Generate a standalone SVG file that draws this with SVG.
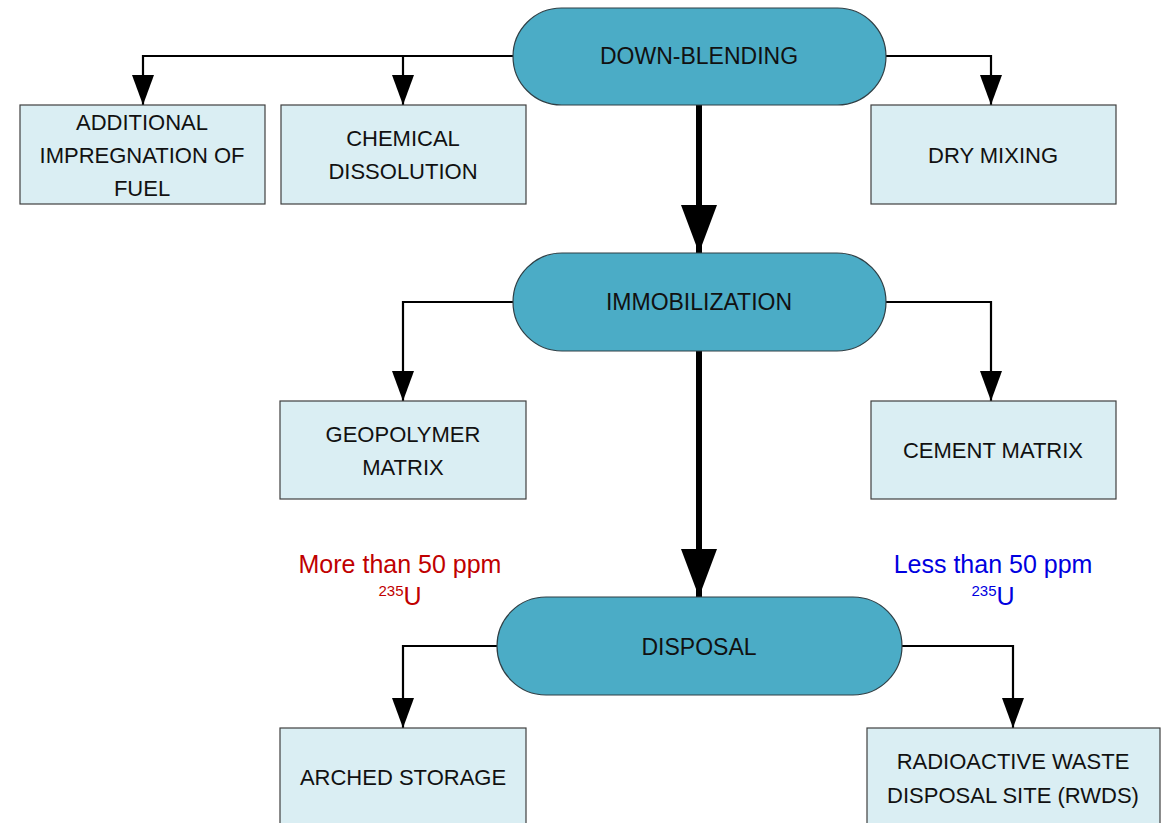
<svg xmlns="http://www.w3.org/2000/svg" width="1162" height="823" viewBox="0 0 1162 823">
<defs>
<style>
.box{fill:#DAEEF3;stroke:#404040;stroke-width:1.2}
.stad{fill:#4BACC6;stroke:#2F3F45;stroke-width:1.2}
.t{font-family:"Liberation Sans",Arial,sans-serif;font-size:22px;fill:#111;text-anchor:middle}
.s{font-size:23px}
.lbl{font-size:25px}
.thin{fill:none;stroke:#000;stroke-width:2.2}
.thick{fill:none;stroke:#000;stroke-width:6}
.red{fill:#C00000}
.blue{fill:#0000E0}
</style>
<marker id="ah" markerUnits="userSpaceOnUse" markerWidth="30" markerHeight="22" viewBox="0 0 30 22" refX="30" refY="11" orient="auto"><path d="M0,0 L30,11 L0,22 z" fill="#000"/></marker>
<marker id="ahb" markerUnits="userSpaceOnUse" markerWidth="48" markerHeight="36" viewBox="0 0 48 36" refX="48" refY="18" orient="auto"><path d="M0,0 L48,18 L0,36 z" fill="#000"/></marker>
</defs>
<rect width="1162" height="823" fill="#fff"/>
<g id="connectors">
<path class="thin" d="M513,56 H143 V105" marker-end="url(#ah)"/>
<path class="thin" d="M403,56 V105" marker-end="url(#ah)"/>
<path class="thin" d="M886,56 H991 V105" marker-end="url(#ah)"/>
<path class="thick" d="M699,105 V253" marker-end="url(#ahb)"/>
<path class="thin" d="M513,302 H403 V401" marker-end="url(#ah)"/>
<path class="thin" d="M886,302 H991 V401" marker-end="url(#ah)"/>
<path class="thick" d="M699,351 V597" marker-end="url(#ahb)"/>
<path class="thin" d="M497,646 H403 V728" marker-end="url(#ah)"/>
<path class="thin" d="M902,646 H1013 V728" marker-end="url(#ah)"/>
</g>
<g id="down-blending"><rect class="stad" x="513" y="8" width="373" height="97" rx="48.5"/><text class="t s" x="699" y="64">DOWN-BLENDING</text></g>
<g id="additional"><rect class="box" x="20" y="105" width="245" height="99"/><text class="t" x="142" y="130">ADDITIONAL</text><text class="t" x="142" y="163">IMPREGNATION OF</text><text class="t" x="142" y="196">FUEL</text></g>
<g id="chemical"><rect class="box" x="281" y="105" width="245" height="99"/><text class="t" x="403" y="146">CHEMICAL</text><text class="t" x="403" y="179">DISSOLUTION</text></g>
<g id="dry-mixing"><rect class="box" x="871" y="105" width="245" height="99"/><text class="t" x="993" y="163">DRY MIXING</text></g>
<g id="immobilization"><rect class="stad" x="513" y="253" width="373" height="98" rx="49"/><text class="t s" x="699" y="310">IMMOBILIZATION</text></g>
<g id="geopolymer"><rect class="box" x="280" y="401" width="246" height="98"/><text class="t" x="403" y="442">GEOPOLYMER</text><text class="t" x="403" y="475">MATRIX</text></g>
<g id="cement"><rect class="box" x="871" y="401" width="245" height="98"/><text class="t" x="993" y="458">CEMENT MATRIX</text></g>
<g id="more-than"><text class="t lbl red" x="400" y="573">More than 50 ppm</text><text class="t lbl red" x="400" y="605"><tspan font-size="15" dy="-9">235</tspan><tspan dy="9">U</tspan></text></g>
<g id="less-than"><text class="t lbl blue" x="993" y="573">Less than 50 ppm</text><text class="t lbl blue" x="993" y="605"><tspan font-size="15" dy="-9">235</tspan><tspan dy="9">U</tspan></text></g>
<g id="disposal"><rect class="stad" x="497" y="597" width="405" height="98" rx="49"/><text class="t s" x="699" y="655">DISPOSAL</text></g>
<g id="arched"><rect class="box" x="280" y="728" width="246" height="100"/><text class="t" x="403" y="785">ARCHED STORAGE</text></g>
<g id="rwds"><rect class="box" x="867" y="728" width="293" height="100"/><text class="t" x="1013" y="769">RADIOACTIVE WASTE</text><text class="t" x="1013" y="803">DISPOSAL SITE (RWDS)</text></g>
</svg>
